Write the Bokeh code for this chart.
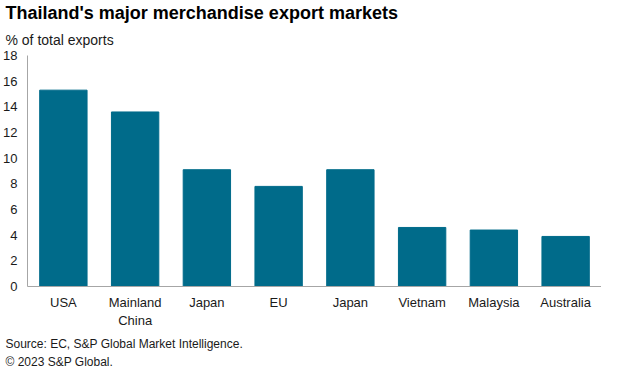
from bokeh.plotting import figure
from bokeh.models import Range1d, FixedTicker, Title
from bokeh.embed import file_html
from bokeh.resources import INLINE

categories = ["USA", "Mainland\nChina", "Japan", "EU", "Japan", "Vietnam", "Malaysia", "Australia"]
values = [15.3, 13.6, 9.1, 7.8, 9.1, 4.6, 4.4, 3.9]
y_ticks = [0, 2, 4, 6, 8, 10, 12, 14, 16, 18]

title_text = "Thailand's major merchandise export markets"
subtitle_text = "% of total exports"
source_text = "Source: EC, S&P Global Market Intelligence."
copyright_text = "\u00a9 2023 S&P Global."

FONT = "Liberation Sans"
BAR = "#006b8a"
AXIS = "#a6a6a6"
TXT = "#1a1a1a"

xs = list(range(len(categories)))

p = figure(width=601, height=373, output_backend="svg", toolbar_location=None,
           x_range=Range1d(-0.5, len(categories) - 0.5), y_range=Range1d(0, 18),
           min_border_left=24, min_border_right=0, min_border_top=10, min_border_bottom=10,
           title=None)
p.outline_line_color = None
p.xgrid.grid_line_color = None
p.ygrid.grid_line_color = None

p.vbar(x=xs, top=values, width=0.66, bottom=0, fill_color=BAR, line_color=BAR)

p.yaxis.ticker = FixedTicker(ticks=y_ticks)
p.xaxis.ticker = FixedTicker(ticks=xs)
p.xaxis.major_label_overrides = {i: c for i, c in enumerate(categories)}

for ax in (p.xaxis, p.yaxis):
    ax.axis_line_color = AXIS
    ax.axis_line_width = 1
    ax.major_tick_line_color = None
    ax.minor_tick_line_color = None
    ax.major_tick_out = 0
    ax.major_tick_in = 0
    ax.major_label_text_font = FONT
    ax.major_label_text_font_size = "13px"
    ax.major_label_text_color = TXT
p.yaxis.major_label_standoff = 10
p.xaxis.major_label_standoff = 8

p.add_layout(Title(text=subtitle_text, text_font=FONT, text_font_size="14px",
                   text_font_style="normal", text_color=TXT, align="left",
                   offset=-22, standoff=15), "above")
p.add_layout(Title(text=title_text, text_font=FONT, text_font_size="18px",
                   text_font_style="bold", text_color="black", align="left",
                   offset=-22, standoff=0), "above")
p.add_layout(Title(text=source_text + "\n" + copyright_text, text_font=FONT,
                   text_font_size="12px", text_line_height=1.3,
                   text_font_style="normal", text_color=TXT, align="left",
                   offset=-22, standoff=9), "below")

open("out.html", "w").write(file_html(p, INLINE))
